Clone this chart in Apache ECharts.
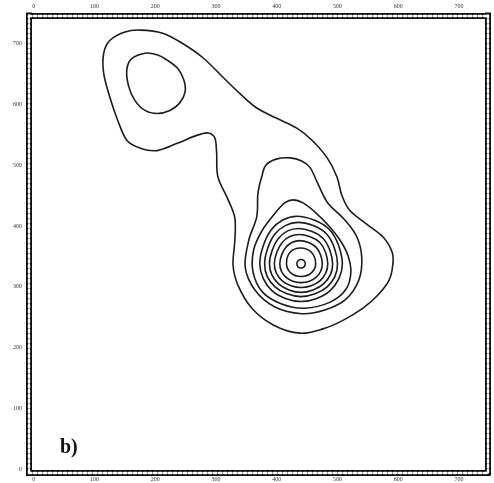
<!DOCTYPE html>
<html>
<head>
<meta charset="utf-8">
<script src="https://cdn.jsdelivr.net/npm/echarts@6/dist/echarts.min.js"></script>
<style>
  html, body { margin: 0; padding: 0; background: #fff; }
  #chart { width: 494px; height: 483px; }
</style>
</head>
<body>
<div id="chart"></div>
<script>
// ---- data (x, y in axis units) ----
const xTickLabels = [0, 100, 200, 300, 400, 500, 600, 700];
const yTickLabels = [0, 100, 200, 300, 400, 500, 600, 700];

const outerContour = [
  [115,684],[125,705],[150,719],[175,722],[212,717],[245,700],[278,677],[311,645],
  [339,618],[367,594],[400,577],[433,561],[458,541],[483,512],[499,481],[507,451],
  [520,426],[548,403],[575,382],[590,357],[591,336],[585,311],[567,287],[542,265],
  [509,245],[476,231],[438,224],[395,237],[359,265],[336,303],[328,336],[331,377],
  [331,413],[320,443],[303,481],[301,520],[298,545],[287,553],[268,549],[236,536],
  [203,524],[175,528],[153,541],[138,574],[125,612],[115,651]
];
const upperLeftPeak = [
  [183,684],[204,681],[219,673],[237,659],[247,640],[249,620],[240,602],[224,590],
  [203,585],[183,590],[166,607],[156,630],[153,656],[160,674]
];
const contourLevel2 = [
  [376,484],[382,500],[399,510],[422,512],[441,507],[455,496],[468,469],[484,438],
  [512,410],[532,382],[540,347],[535,311],[514,280],[479,262],[441,256],[397,267],
  [364,295],[348,333],[354,377],[367,415],[369,454]
];
const contourLevel3 = [
  [427,443],[443,438],[463,423],[484,402],[504,377],[517,352],[522,324],[514,296],
  [488,275],[446,265],[408,272],[377,291],[361,324],[362,361],[376,393],[397,421],[413,438]
];
const ring6 = [[508,338],[487,394],[433,416],[391,394],[372,338],[392,294],[440,276],[488,294]];
const ring5 = [[500,338],[482,387],[435,406],[397,387],[380,338],[397,300],[440,284],[483,300]];
const ring4 = [[492,338],[476,380],[436,396],[403,380],[388,338],[403,305],[440,291],[477,305]];
const ring3 = [[484,338],[471,373],[437,386],[409,373],[396,338],[409,310],[440,299],[471,310]];
const ring2 = [[475,338],[465,365],[438,376],[415,365],[405,338],[415,316],[440,307],[465,316]];
const ring1 = [[464,338],[457,357],[439,364],[422,357],[416,338],[423,323],[440,317],[457,323]];
const peakRing = [[447,338],[445,343],[440,345],[435,343],[433,338],[435,333],[440,331],[445,333]];

const contours = [outerContour, upperLeftPeak, contourLevel2, contourLevel3,
                  ring6, ring5, ring4, ring3, ring2, ring1, peakRing];

// ---- chart ----
const chart = echarts.init(document.getElementById('chart'), null, { renderer: 'canvas' });

// closed Catmull-Rom curve through the pixel points
function closedCurve(p) {
  const n = p.length;
  let d = 'M' + p[0][0].toFixed(2) + ' ' + p[0][1].toFixed(2);
  for (let i = 0; i < n; i++) {
    const p0 = p[(i - 1 + n) % n], p1 = p[i], p2 = p[(i + 1) % n], p3 = p[(i + 2) % n];
    const c1x = p1[0] + (p2[0] - p0[0]) / 6, c1y = p1[1] + (p2[1] - p0[1]) / 6;
    const c2x = p2[0] - (p3[0] - p1[0]) / 6, c2y = p2[1] - (p3[1] - p1[1]) / 6;
    d += ' C' + c1x.toFixed(2) + ' ' + c1y.toFixed(2) + ' ' + c2x.toFixed(2) + ' ' +
         c2y.toFixed(2) + ' ' + p2[0].toFixed(2) + ' ' + p2[1].toFixed(2);
  }
  return d + ' Z';
}

function contourSeries(pts, i) {
  return {
    type: 'custom',
    name: 'contour' + i,
    coordinateSystem: 'cartesian2d',
    data: pts,
    encode: { x: 0, y: 1 },
    animation: false,
    silent: true,
    z: 5,
    renderItem: function (params, api) {
      if (params.dataIndex !== 0) return null;
      const p = pts.map(function (d) { return api.coord(d); });
      return {
        type: 'path',
        shape: { pathData: closedCurve(p) },
        style: { fill: 'none', stroke: '#1c1c1c', lineWidth: 1.6 }
      };
    }
  };
}

const labelStyle = { fontFamily: 'Liberation Serif', fontSize: 6, color: '#333' };
const frameBlack = { color: '#111', width: 6, cap: 'square' };
const frameWhite = { color: '#fff', width: 2.4, type: [2.5, 2.5] };

function xAx(pos, style, showLabel, z) {
  return {
    type: 'value', min: -8, max: 747, position: pos, z: z,
    axisLine: { show: true, onZero: false, lineStyle: style },
    axisTick: { show: false }, splitLine: { show: false },
    axisLabel: Object.assign({ show: showLabel, customValues: xTickLabels,
                               margin: pos === 'top' ? 6 : 4 }, labelStyle)
  };
}
function yAx(pos, style, showLabel, z) {
  return {
    type: 'value', min: -5, max: 746, position: pos, z: z,
    axisLine: { show: true, onZero: false, lineStyle: style },
    axisTick: { show: false }, splitLine: { show: false },
    axisLabel: Object.assign({ show: showLabel, customValues: yTickLabels, margin: 7 }, labelStyle)
  };
}

const option = {
  backgroundColor: '#fff',
  animation: false,
  title: {
    text: 'b)', left: 55, top: 433,
    textStyle: { fontFamily: 'Liberation Serif', fontWeight: 'bold', fontSize: 20, color: '#111' }
  },
  grid: { left: 29, right: 6.5, top: 15.5, bottom: 10.5, containLabel: false },
  xAxis: [
    xAx('bottom', frameBlack, true, 1),
    xAx('top', frameBlack, true, 1),
    xAx('bottom', frameWhite, false, 2),
    xAx('top', frameWhite, false, 2)
  ],
  yAxis: [
    yAx('left', frameBlack, true, 1),
    yAx('right', frameBlack, false, 1),
    yAx('left', frameWhite, false, 2),
    yAx('right', frameWhite, false, 2)
  ],
  series: contours.map(contourSeries)
};
chart.setOption(option);
</script>
</body>
</html>
